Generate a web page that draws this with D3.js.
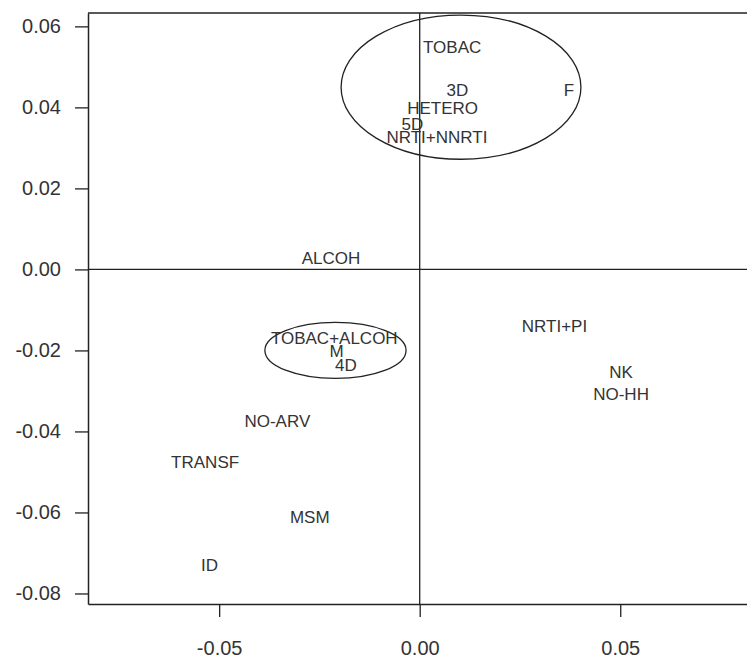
<!DOCTYPE html>
<html>
<head>
<meta charset="utf-8">
<script src="https://cdn.jsdelivr.net/npm/d3@7"></script>
<style>
  html, body { margin: 0; padding: 0; background: #fff; }
  svg { display: block; }
</style>
</head>
<body>
<script>
const WIDTH = 747;
const HEIGHT = 658;
const FONT = "'Liberation Sans', Arial, sans-serif";
const INK = "#222";

// plot frame in pixels
const PLOT = { left: 88, right: 751, top: 13, bottom: 604 };

const X_DOMAIN = [-0.0827, 0.0826];
const Y_DOMAIN = [-0.0826, 0.0633];
const X_TICKS = [-0.05, 0.0, 0.05];
const Y_TICKS = [0.06, 0.04, 0.02, 0.0, -0.02, -0.04, -0.06, -0.08];

// category labels and their coordinates
const labels = ["TOBAC", "3D", "F", "HETERO", "5D", "NRTI+NNRTI", "ALCOH",
  "TOBAC+ALCOH", "M", "4D", "NO-ARV", "TRANSF", "MSM", "ID", "NRTI+PI", "NK", "NO-HH"];
const dim1 = [0.0081, 0.0094, 0.0372, 0.0057, -0.0018, 0.0043, -0.0221,
  -0.0213, -0.0207, -0.0184, -0.0355, -0.0535, -0.0274, -0.0524, 0.0336, 0.0502, 0.0502];
const dim2 = [0.0550, 0.0442, 0.0442, 0.0400, 0.0360, 0.0328, 0.0028,
  -0.0170, -0.0200, -0.0236, -0.0373, -0.0475, -0.0610, -0.0729, -0.0139, -0.0252, -0.0308];

// grouping ellipses: centre and radii in data units
const ellipseCx = [0.0103, -0.0210];
const ellipseCy = [0.0450, -0.0200];
const ellipseRx = [0.0299, 0.0176];
const ellipseRy = [0.0178, 0.0069];

const x = d3.scaleLinear().domain(X_DOMAIN).range([PLOT.left, PLOT.right]);
const y = d3.scaleLinear().domain(Y_DOMAIN).range([PLOT.bottom, PLOT.top]);

// plain hyphen for negatives, as in the original
const fmt = d3.formatLocale({ decimal: ".", thousands: ",", grouping: [3], currency: ["", ""], minus: "-" }).format(".2f");

const svg = d3.select("body").append("svg")
  .attr("width", WIDTH)
  .attr("height", HEIGHT)
  .attr("viewBox", `0 0 ${WIDTH} ${HEIGHT}`);

svg.append("rect").attr("width", WIDTH).attr("height", HEIGHT).attr("fill", "#fff");

// frame (top line; left and bottom come from the axes)
svg.append("line")
  .attr("x1", PLOT.left).attr("x2", PLOT.right)
  .attr("y1", PLOT.top).attr("y2", PLOT.top)
  .attr("stroke", INK).attr("stroke-width", 1.5);

// reference lines through the origin
svg.append("line")
  .attr("x1", x(0)).attr("x2", x(0))
  .attr("y1", PLOT.top).attr("y2", PLOT.bottom)
  .attr("stroke", INK).attr("stroke-width", 1.3);
svg.append("line")
  .attr("x1", PLOT.left).attr("x2", PLOT.right)
  .attr("y1", y(0)).attr("y2", y(0))
  .attr("stroke", INK).attr("stroke-width", 1.3);

// axes
const yAxis = svg.append("g")
  .attr("transform", `translate(${PLOT.left},0)`)
  .call(d3.axisLeft(y).tickValues(Y_TICKS).tickSize(13).tickSizeOuter(0).tickPadding(14)
    .tickFormat(fmt));
const xAxis = svg.append("g")
  .attr("transform", `translate(0,${PLOT.bottom})`)
  .call(d3.axisBottom(x).tickValues(X_TICKS).tickSize(13).tickSizeOuter(0).tickPadding(24)
    .tickFormat(fmt));

[xAxis, yAxis].forEach((a) => {
  a.selectAll(".domain").attr("stroke", INK).attr("stroke-width", 1.5);
  a.selectAll(".tick line").attr("stroke", INK).attr("stroke-width", 1.3);
  a.selectAll("text").attr("fill", "#333").attr("font-size", "20px").attr("font-family", FONT);
});

// ellipses
svg.append("g").selectAll("ellipse")
  .data(ellipseCx.map((cx, i) => ({ cx, cy: ellipseCy[i], rx: ellipseRx[i], ry: ellipseRy[i] })))
  .join("ellipse")
  .attr("cx", (d) => x(d.cx))
  .attr("cy", (d) => y(d.cy))
  .attr("rx", (d) => x(d.rx) - x(0))
  .attr("ry", (d) => y(0) - y(d.ry))
  .attr("fill", "none")
  .attr("stroke", INK)
  .attr("stroke-width", 1.3);

// point labels
svg.append("g").selectAll("text")
  .data(labels.map((name, i) => ({ name, d1: dim1[i], d2: dim2[i] })))
  .join("text")
  .attr("x", (d) => x(d.d1))
  .attr("y", (d) => y(d.d2))
  .attr("dy", "0.36em")
  .attr("text-anchor", "middle")
  .attr("fill", "#333")
  .attr("font-size", "17px")
  .attr("font-family", FONT)
  .text((d) => d.name);
</script>
</body>
</html>
